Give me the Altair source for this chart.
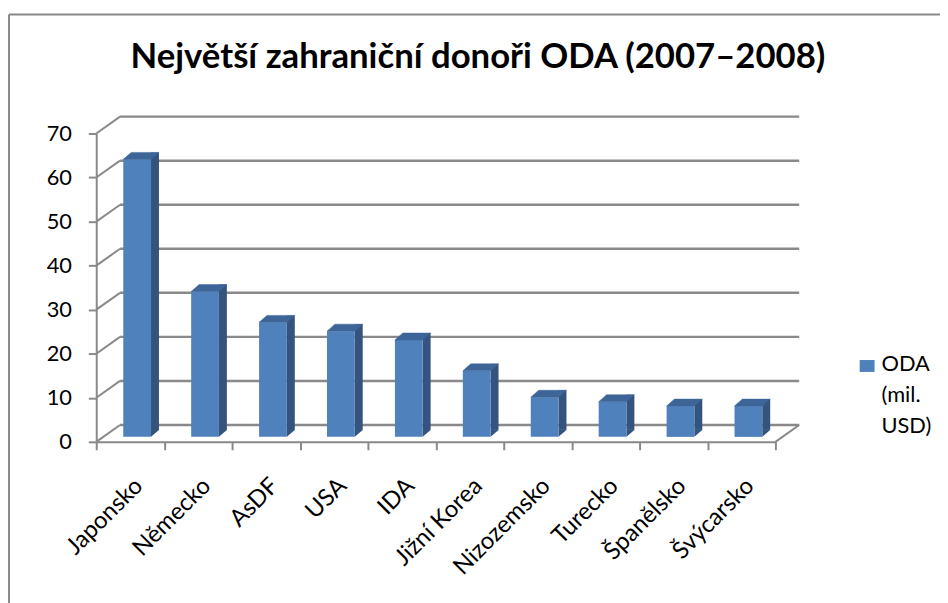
import altair as alt
import pandas as pd

# ---- data -------------------------------------------------------------
title_text = "Největší zahraniční donoři ODA (2007–2008)"
series_name = "ODA (mil. USD)"
categories = ["Japonsko", "Německo", "AsDF", "USA", "IDA",
              "Jižní Korea", "Nizozemsko", "Turecko", "Španělsko", "Švýcarsko"]
values = [63, 33, 26, 24, 22, 15, 9, 8, 7, 7]
y_ticks = [0, 10, 20, 30, 40, 50, 60, 70]

bars = pd.DataFrame({"donor": categories, "oda": values, "zero": [0] * len(values)})
ticks = pd.DataFrame({"tick": y_ticks})
legend_df = pd.DataFrame({"series": [series_name]})
title_df = pd.DataFrame({"t": [title_text]})
one = pd.DataFrame({"k": [0]})

# ---- geometry / style ---------------------------------------------------
W, H = 685, 311
DX, DY = 24, 17        # depth of the walls (px)
BX, BY = 7, 5          # plane of the bars inside the depth (px)
BW, SD, SH = 28, 8, 7  # bar front width, side depth, top height (px)

GRAY = "#898989"
FRONT = "#4F81BD"
SIDE = "#34547E"
TOP = "#3E6597"
FONT = "Lato"

xs = alt.Scale(domain=categories, paddingInner=0, paddingOuter=0)
ys = alt.Scale(domain=[0, 70], nice=False, zero=True)

x_axis = alt.Axis(title=None, tickBand="extent", labelAngle=-45, labelAlign="right",
                  labelBaseline="top", labelPadding=24, tickSize=8, labelFontSize=24,
                  labelFont=FONT, labelColor="black", domainColor=GRAY, tickColor=GRAY,
                  domainWidth=2, tickWidth=2, labelOverlap=False)
y_axis = alt.Axis(title=None, values=y_ticks, grid=False, tickSize=8, labelPadding=17,
                  labelFontSize=22, labelFont=FONT, labelColor="black",
                  domainColor=GRAY, tickColor=GRAY, domainWidth=2, tickWidth=2)

X = alt.X("donor:N", scale=xs, axis=x_axis)
Yv = alt.Y("oda:Q", scale=ys, axis=y_axis)
Yt = alt.Y("tick:Q", scale=ys, axis=y_axis)
Yz = alt.Y("zero:Q", scale=ys, axis=y_axis)

# back wall gridlines
grid = alt.Chart(ticks).mark_rule(color=GRAY, strokeWidth=2.5, yOffset=-DY).encode(
    y=Yt, x=alt.value(DX), x2=alt.value(W + DX))

# left wall diagonals
diag = alt.Chart(ticks).mark_rule(color=GRAY, strokeWidth=2, y2Offset=-DY).encode(
    x=alt.value(0), x2=alt.value(DX), y=Yt, y2="tick:Q")

# right floor edge
floor_right = alt.Chart(ticks).transform_filter("datum.tick == 0").mark_rule(
    color=GRAY, strokeWidth=2, y2Offset=-DY).encode(
    x=alt.value(W), x2=alt.value(W + DX), y=Yt, y2="tick:Q")

# bar side faces
side = alt.Chart(bars).mark_bar(color=SIDE, width=SD, xOffset=BX + BW / 2 + SD / 2,
                                yOffset=-(BY + SH), y2Offset=-(BY + SH)).encode(
    x=X, y=Yv, y2="zero:Q")
side_low = alt.Chart(bars).mark_point(
    shape="M-1,-0.875L-1,0.875L1,-0.875Z", size=SD ** 2, filled=True,
    color=SIDE, opacity=1, strokeWidth=0,
    xOffset=BX + BW / 2 + SD / 2, yOffset=-(BY + SH / 2)).encode(x=X, y=Yz)

# bar front faces
front = alt.Chart(bars).mark_bar(color=FRONT, width=BW, xOffset=BX,
                                 yOffset=-BY, y2Offset=-BY).encode(
    x=X, y=Yv, y2="zero:Q")

# bar top faces (parallelogram symbol)
r = (BW + SD) / 2
a = (SH / 2) / r
b = (r - SD) / r
top_path = f"M-1,{a:.4f}L{b:.4f},{a:.4f}L1,-{a:.4f}L-{b:.4f},-{a:.4f}Z"
top = alt.Chart(bars).mark_point(
    shape=top_path, size=(2 * r) ** 2, filled=True, color=TOP, opacity=1,
    stroke=TOP, strokeWidth=0.5,
    xOffset=BX + SD / 2, yOffset=-(BY + SH / 2)).encode(x=X, y=Yv)

# legend
leg_sym = alt.Chart(legend_df).mark_point(
    shape="M-1,-0.8L1,-0.8L1,0.8L-1,0.8Z", size=225, filled=True, color=FRONT,
    opacity=1, strokeWidth=0).encode(x=alt.value(777.5), y=alt.value(234.5))
leg_txt = alt.Chart(legend_df).mark_text(
    align="left", baseline="alphabetic", lineBreak=" ", lineHeight=31,
    fontSize=22, font=FONT, color="black").encode(
    x=alt.value(792), y=alt.value(240), text="series:N")

# title
title = alt.Chart(title_df).mark_text(
    align="center", baseline="alphabetic", fontSize=35, fontWeight="bold",
    font=FONT, color="black").encode(x=alt.value(385), y=alt.value(-66), text="t:N")

# chart border (left and top edges)
border_l = alt.Chart(one).mark_rule(color=GRAY, strokeWidth=2).encode(
    x=alt.value(-88), y=alt.value(-120), y2=alt.value(475))
border_t = alt.Chart(one).mark_rule(color=GRAY, strokeWidth=2).encode(
    x=alt.value(-88), x2=alt.value(860), y=alt.value(-120))

chart = alt.layer(
    grid, diag, floor_right, side, side_low, front, top,
    leg_sym, leg_txt, title, border_l, border_t
).properties(
    width=W, height=H,
    autosize=alt.AutoSizeParams(type="none"),
    padding={"left": 89, "top": 124, "right": 166, "bottom": 160},
    background="white",
).configure_view(stroke=None)

chart.save("out.html", embed_options={"renderer": "svg", "actions": False})
